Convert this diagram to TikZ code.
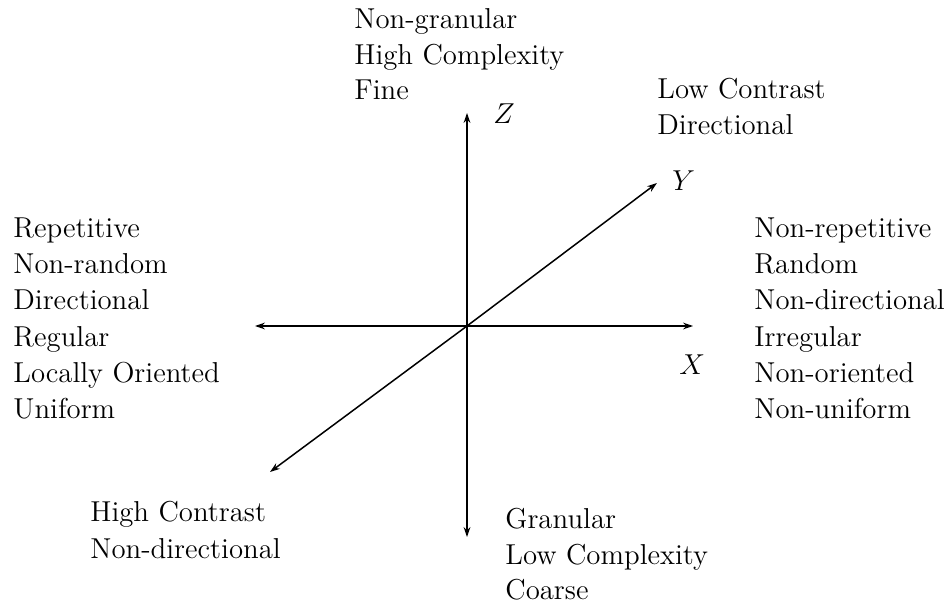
\documentclass[tikz,border=0pt]{standalone}
\usetikzlibrary{arrows.meta}
\begin{document}
\begin{tikzpicture}[x=0.5pt,y=-0.5pt,
  axis/.style={line width=0.75pt,-{Stealth[length=5pt,width=3.4pt]}},
  lbl/.style={anchor=base west,inner sep=0pt,font=\Large}]
\useasboundingbox (0,0) rectangle (948,604);
\coordinate (O) at (467,326);
\coordinate (Zt) at (467,113);
\coordinate (Zb) at (467,537);
\coordinate (Xl) at (255,326);
\coordinate (Xr) at (693,326);
\coordinate (Yu) at (657,183);
\coordinate (Yd) at (270,472);
\draw[axis] (O) -- (Zt);
\draw[axis] (O) -- (Zb);
\draw[axis] (O) -- (Xl);
\draw[axis] (O) -- (Xr);
\draw[axis] (O) -- (Yu);
\draw[axis] (O) -- (Yd);
% axis labels
\node[lbl] (zl) at (493,124) {$Z$};
\node[lbl] (yl) at (672,191) {$Y$};
\node[lbl] (xl) at (679,374) {$X$};
% top
\node[lbl] (t1) at (354,29) {Non-granular};
\node[lbl] (t2) at (354,65) {High Complexity};
\node[lbl] (t3) at (354,100) {Fine};
% upper right
\node[lbl] (u1) at (657,99) {Low Contrast};
\node[lbl] (u2) at (657,135) {Directional};
% left
\node[lbl] (l1) at (13,238) {Repetitive};
\node[lbl] (l2) at (13,274) {Non-random};
\node[lbl] (l3) at (13,310) {Directional};
\node[lbl] (l4) at (13,346) {Regular};
\node[lbl] (l5) at (13,382) {Locally Oriented};
\node[lbl] (l6) at (13,418) {Uniform};
% right
\node[lbl] (r1) at (754,238) {Non-repetitive};
\node[lbl] (r2) at (754,274) {Random};
\node[lbl] (r3) at (754,310) {Non-directional};
\node[lbl] (r4) at (754,346) {Irregular};
\node[lbl] (r5) at (754,382) {Non-oriented};
\node[lbl] (r6) at (754,418) {Non-uniform};
% lower left
\node[lbl] (d1) at (90,521) {High Contrast};
\node[lbl] (d2) at (90,558) {Non-directional};
% bottom
\node[lbl] (b1) at (505,528) {Granular};
\node[lbl] (b2) at (505,564) {Low Complexity};
\node[lbl] (b3) at (505,599) {Coarse};
\end{tikzpicture}
\end{document}
